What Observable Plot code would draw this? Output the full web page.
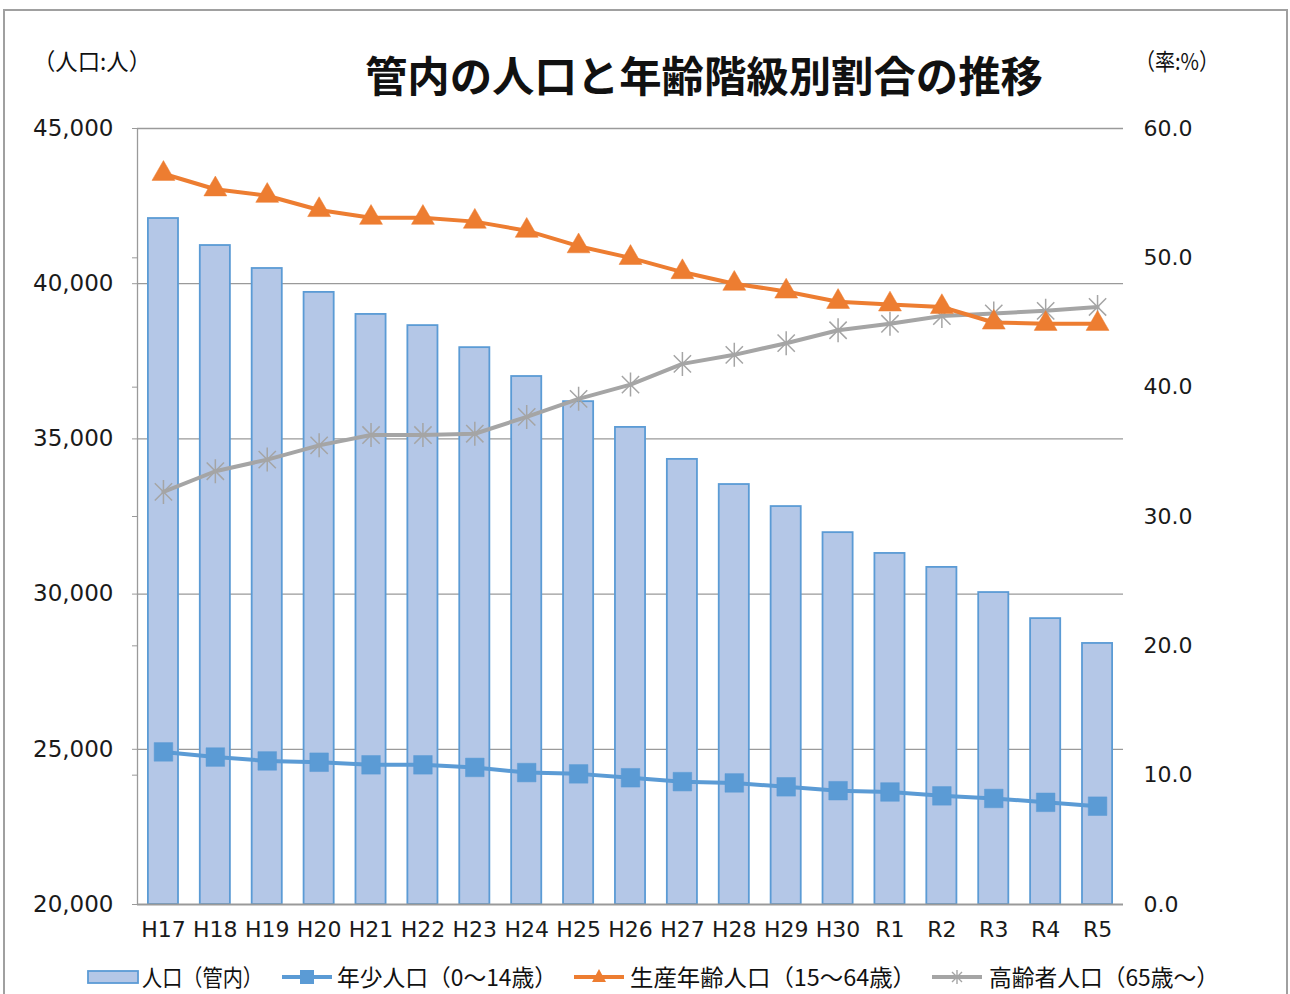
<!DOCTYPE html>
<html>
<head>
<meta charset="utf-8">
<script src="https://cdn.jsdelivr.net/npm/d3@7"></script>
<script src="https://cdn.jsdelivr.net/npm/@observablehq/plot@0.6"></script>
<style>
  html, body { margin: 0; padding: 0; background: #fff; }
  body { width: 1290px; height: 994px; overflow: hidden; position: relative;
         font-family: "Noto Sans CJK JP", "Noto Sans", sans-serif; color: #1a1a1a; }
  #frame { position: absolute; left: 3px; top: 9px; width: 1285px; height: 1000px;
           border: 2px solid #a0a0a0; box-sizing: border-box; }
  #chart { position: absolute; left: 0; top: 0; }
  #overlay { position: absolute; left: 0; top: 0; }
</style>
</head>
<body>
<div id="frame"></div>
<div id="chart"></div>
<svg id="overlay" width="1290" height="994"></svg>
<script>
const categories = ["H17","H18","H19","H20","H21","H22","H23","H24","H25","H26","H27","H28","H29","H30","R1","R2","R3","R4","R5"];
const population = [42100, 41230, 40490, 39720, 39010, 38650, 37940, 37010, 36200, 35370, 34340, 33530, 32820, 31980, 31310, 30860, 30050, 29210, 28410];
const youthPct   = [11.8, 11.4, 11.1, 11.0, 10.8, 10.8, 10.6, 10.2, 10.1, 9.8, 9.5, 9.4, 9.1, 8.8, 8.7, 8.4, 8.2, 7.9, 7.6];
const workingPct = [56.5, 55.3, 54.8, 53.7, 53.1, 53.1, 52.8, 52.1, 50.9, 50.0, 48.9, 48.0, 47.4, 46.6, 46.4, 46.2, 45.0, 44.9, 44.9];
const elderlyPct = [31.9, 33.5, 34.4, 35.5, 36.3, 36.3, 36.4, 37.7, 39.1, 40.2, 41.8, 42.5, 43.4, 44.4, 44.9, 45.5, 45.7, 45.9, 46.2];
const leftTicks  = [20000, 25000, 30000, 35000, 40000, 45000];
const rightTicks = [0, 10, 20, 30, 40, 50, 60];
const seriesNames = ["人口（管内）", "年少人口（0～14歳）", "生産年齢人口（15～64歳）", "高齢者人口（65歳～）"];
const titleText = "管内の人口と年齢階級別割合の推移";
const unitLeft = "（人口:人）";
const unitRight = "（率:%）";

const colors = { barFill: "#B4C7E7", barStroke: "#5B9BD5", youth: "#5B9BD5", working: "#ED7D31", elderly: "#A5A5A5" };
const numFont = "'DejaVu Sans', Verdana, sans-serif";
const jpFont = "'Noto Sans CJK JP', 'Noto Sans', sans-serif";

// secondary axis (0–60 %) mapped onto primary domain (20000–45000)
const L0 = 20000, L1 = 45000, R0 = 0, R1 = 60;
const toLeft = v => L0 + (v - R0) * (L1 - L0) / (R1 - R0);
const toRight = y => R0 + (y - L0) * (R1 - R0) / (L1 - L0);

const bars = categories.map((c, i) => ({ cat: c, value: population[i] }));
const youth = categories.map((c, i) => ({ cat: c, value: toLeft(youthPct[i]) }));
const working = categories.map((c, i) => ({ cat: c, value: toLeft(workingPct[i]) }));
const elderly = categories.map((c, i) => ({ cat: c, value: toLeft(elderlyPct[i]) }));

// Excel-like asterisk marker: X plus vertical stroke
const starSymbol = {
  draw(context, size) {
    const r = Math.sqrt(size / Math.PI);
    const d = r * 0.72;
    context.moveTo(0, -r); context.lineTo(0, r);
    context.moveTo(-d, -d); context.lineTo(d, d);
    context.moveTo(-d, d); context.lineTo(d, -d);
  }
};

const W = 1290, H = 960;
const plotLeft = 137, plotRight = 1123;
const step = (plotRight - plotLeft) / categories.length;
const barInset = step * 0.21;

const chart = Plot.plot({
  width: W,
  height: H,
  marginLeft: plotLeft,
  marginRight: W - plotRight,
  marginTop: 128,
  marginBottom: H - 904,
  style: { fontFamily: numFont, fontSize: "22px", color: "#1a1a1a", background: "transparent" },
  x: { type: "band", domain: categories, padding: 0, round: false, label: null },
  y: { domain: [L0, L1], label: null },
  marks: [
    Plot.gridY(leftTicks.slice(1), { stroke: "#9a9a9a", strokeOpacity: 1, strokeWidth: 1.3 }),
    Plot.barY(bars, { x: "cat", y1: L0, y2: "value", insetLeft: barInset, insetRight: barInset, fill: colors.barFill, stroke: colors.barStroke, strokeWidth: 1.8 }),
    Plot.axisY(leftTicks, { anchor: "left", tickSize: 5, tickPadding: 19, stroke: "#9a9a9a", fontSize: 23, tickFormat: d3.format(","), label: null }),
    Plot.axisY(rightTicks.map(toLeft), { anchor: "left", tickSize: 5, tickFormat: () => "", stroke: "#9a9a9a", label: null }),
    Plot.axisY(rightTicks.map(toLeft), { anchor: "right", tickSize: 0, tickPadding: 20, fontSize: 22, tickFormat: d => toRight(d).toFixed(1), label: null }),
    Plot.ruleX([categories[0]], { x: d => d, dx: -step / 2, y1: L0, y2: L1, stroke: "#9a9a9a", strokeWidth: 1.3 }),
    Plot.ruleY([L0], { stroke: "#9a9a9a", strokeWidth: 1.8 }),
    Plot.axisX({ anchor: "bottom", tickSize: 0, tickPadding: 17, fontSize: 22, label: null }),
    Plot.line(elderly, { x: "cat", y: "value", stroke: colors.elderly, strokeWidth: 4 }),
    Plot.dot(elderly, { x: "cat", y: "value", symbol: starSymbol, r: 12, stroke: colors.elderly, strokeWidth: 1.5, fill: "none" }),
    Plot.line(working, { x: "cat", y: "value", stroke: colors.working, strokeWidth: 4 }),
    Plot.dot(working, { x: "cat", y: "value", symbol: "triangle", r: 8.5, fill: colors.working, stroke: colors.working, strokeWidth: 0.5 }),
    Plot.line(youth, { x: "cat", y: "value", stroke: colors.youth, strokeWidth: 4 }),
    Plot.dot(youth, { x: "cat", y: "value", symbol: "square", r: 10.5, fill: colors.youth, stroke: colors.youth, strokeWidth: 0.5 })
  ]
});
document.getElementById("chart").appendChild(chart);

// overlay texts + legend
const ov = d3.select("#overlay");
function txt(s, x, y, len, size, weight) {
  ov.append("text").attr("x", x).attr("y", y).attr("font-family", jpFont)
    .attr("font-size", size).attr("font-weight", weight || "normal").attr("fill", "#111")
    .attr("textLength", len).attr("lengthAdjust", "spacingAndGlyphs").text(s);
}
txt(titleText, 365, 92, 678, 42, "bold");
txt(unitLeft, 33, 70, 118, 23);
txt(unitRight, 1135, 70, 84, 23);

const legendY = 977;
const legendItems = [
  { sx: 88, tx: 142, tlen: 121 },
  { sx: 282, tx: 337, tlen: 220 },
  { sx: 574, tx: 630, tlen: 286 },
  { sx: 932, tx: 989, tlen: 230 }
];
legendItems.forEach((it, i) => {
  const g = ov.append("g").attr("transform", `translate(${it.sx},${legendY})`);
  if (i === 0) {
    g.append("rect").attr("x", 0).attr("y", -6).attr("width", 50).attr("height", 12)
      .attr("fill", colors.barFill).attr("stroke", colors.barStroke).attr("stroke-width", 1.8);
  } else {
    const c = [null, colors.youth, colors.working, colors.elderly][i];
    g.append("line").attr("x1", 0).attr("x2", 50).attr("y1", 0).attr("y2", 0).attr("stroke", c).attr("stroke-width", 4);
    if (i === 1) g.append("rect").attr("x", 18).attr("y", -7).attr("width", 14).attr("height", 14).attr("fill", c);
    if (i === 2) g.append("path").attr("d", "M25,-8 L32,5 L18,5 Z").attr("fill", c);
    if (i === 3) g.append("path").attr("d", "M25,-7 L25,7 M20,-5 L30,5 M20,5 L30,-5").attr("stroke", c).attr("stroke-width", 1.4).attr("fill", "none");
  }
  txt(seriesNames[i], it.tx, legendY + 9, it.tlen, 23);
});
</script>
</body>
</html>
